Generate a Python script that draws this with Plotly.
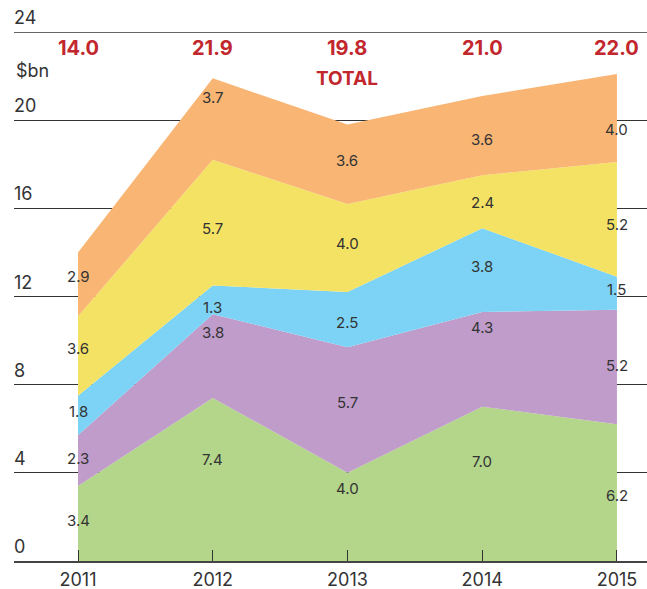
import plotly.graph_objects as go

years = [2011, 2012, 2013, 2014, 2015]
green = [3.4, 7.4, 4.0, 7.0, 6.2]
purple = [2.3, 3.8, 5.7, 4.3, 5.2]
blue = [1.8, 1.3, 2.5, 3.8, 1.5]
yellow = [3.6, 5.7, 4.0, 2.4, 5.2]
orange = [2.9, 3.7, 3.6, 3.6, 4.0]
totals = ["14.0", "21.9", "19.8", "21.0", "22.0"]
y_ticks = [0, 4, 8, 12, 16, 20, 24]

# small hand-placement nudges of the value labels (pixels, positive = down)
nudge_green = [3, -14, -22, -16, 9]
nudge_purple = [4, -18, -2, -26, 4]
nudge_blue = [2, 14, 9, 2, 2]
nudge_yellow = [-2, 12, 1, 7, 11]
nudge_orange = [-2, -16, 2, 10, 18]

series = [
    (green, "#B3D68B", nudge_green),
    (purple, "#BF9CC9", nudge_purple),
    (blue, "#7DD3F5", nudge_blue),
    (yellow, "#F4E264", nudge_yellow),
    (orange, "#F9B574", nudge_orange),
]

FONT = "Inter"
TXT = "#333333"
RED = "#C1272D"

fig = go.Figure()
for vals, col, _ in series:
    fig.add_trace(go.Scatter(
        x=years, y=vals, stackgroup="one", mode="none",
        fillcolor=col, line=dict(width=0), hoverinfo="skip", showlegend=False,
    ))

annotations = []
base = [0.0] * len(years)
for vals, col, nudge in series:
    for i, yr in enumerate(years):
        mid = base[i] + vals[i] / 2
        annotations.append(dict(
            x=yr, y=mid, text=f"{vals[i]:.1f}", showarrow=False,
            xanchor="center", yanchor="middle", yshift=6 - nudge[i],
            font=dict(family=FONT, size=15, color=TXT),
        ))
    base = [b + v for b, v in zip(base, vals)]

for yr, t in zip(years, totals):
    annotations.append(dict(
        x=yr, y=24, text=f"<b>{t}</b>", showarrow=False,
        xanchor="center", yanchor="middle", yshift=-16,
        font=dict(family=FONT, size=20, color=RED, weight=800),
    ))
annotations.append(dict(
    x=2013, y=24, text="<b>TOTAL</b>", showarrow=False,
    xanchor="center", yanchor="middle", yshift=-46,
    font=dict(family=FONT, size=19, color=RED, weight=800),
))
annotations.append(dict(
    xref="paper", x=0, y=24, text="$bn", showarrow=False,
    xanchor="left", yanchor="middle", yshift=-38,
    font=dict(family=FONT, size=18, color=TXT),
))
for t in y_ticks:
    annotations.append(dict(
        xref="paper", x=0, y=t, text=str(t), showarrow=False,
        xanchor="left", yanchor="bottom", yshift=2, xshift=-2,
        font=dict(family=FONT, size=18, color=TXT),
    ))

fig.update_layout(
    width=647, height=589,
    margin=dict(l=14, r=0, t=32, b=28, autoexpand=False),
    plot_bgcolor="white", paper_bgcolor="white",
    annotations=annotations,
    shapes=[dict(type="line", xref="paper", x0=0, x1=1, yref="y", y0=24, y1=24,
                 line=dict(color="#333", width=1.5), layer="below")],
    xaxis=dict(
        range=[2010.525, 2015.223], tickvals=years, ticktext=[str(y) for y in years],
        ticks="inside", ticklen=11, tickcolor="#333", tickwidth=1,
        showgrid=False, zeroline=False,
        showline=True, linecolor="#444", linewidth=2,
        tickfont=dict(family=FONT, size=18, color=TXT),
        ticklabelstandoff=1, automargin=False,
        fixedrange=True,
    ),
    yaxis=dict(
        range=[0, 24], tickvals=y_ticks, showticklabels=False,
        showgrid=True, gridcolor="#333", gridwidth=1, zeroline=False,
        automargin=False, fixedrange=True,
    ),
)

fig.write_html("out.html", config={"displayModeBar": False},
               post_script="document.body.style.margin='0';document.body.style.overflow='hidden';")
